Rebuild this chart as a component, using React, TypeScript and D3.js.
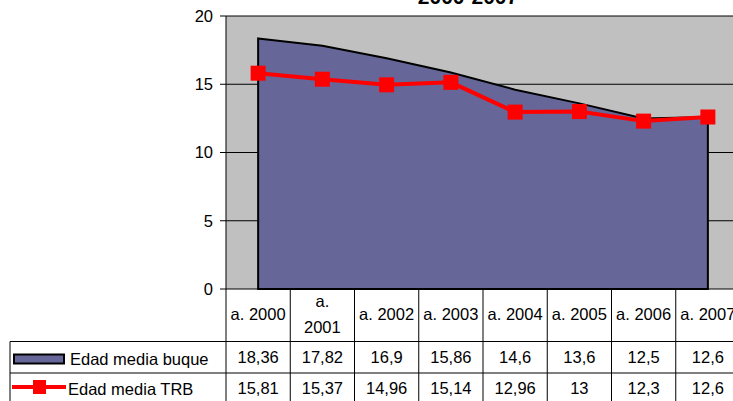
import React, { useEffect, useRef } from 'react';
import * as d3 from 'd3';

// years shown in the data table header (2001 wraps onto two lines in the original)
const categories = ['a. 2000', 'a. 2001', 'a. 2002', 'a. 2003', 'a. 2004', 'a. 2005', 'a. 2006', 'a. 2007'];
const headerLines = [['a. 2000'], ['a.', '2001'], ['a. 2002'], ['a. 2003'], ['a. 2004'], ['a. 2005'], ['a. 2006'], ['a. 2007']];
const edadBuque = [18.36, 17.82, 16.9, 15.86, 14.6, 13.6, 12.5, 12.6];
const edadTRB = [15.81, 15.37, 14.96, 15.14, 12.96, 13, 12.3, 12.6];
const yTicks = [0, 5, 10, 15, 20];
const seriesNames = ['Edad media buque', 'Edad media TRB'];
const title = '2000-2007';

const W = 733;
const H = 401;
const FONT = '"Liberation Sans", Arial, sans-serif';

const App: React.FC = () => {
  const svgRef = useRef<SVGSVGElement>(null);

  useEffect(() => {
    if (!svgRef.current) return;
    const svg = d3.select(svgRef.current);
    svg.selectAll('*').remove();

    const left = 226, right = 740, top = 16, bottom = 289;
    const x = d3.scaleBand<string>().domain(categories).range([left, right]).padding(0);
    const y = d3.scaleLinear().domain([0, 20]).range([bottom, top]);
    const cx = (c: string) => (x(c) as number) + x.bandwidth() / 2;

    // plot background
    svg.append('rect')
      .attr('x', left).attr('y', top)
      .attr('width', right - left).attr('height', bottom - top)
      .attr('fill', '#c0c0c0');

    // gridlines
    svg.append('g')
      .selectAll('line')
      .data(yTicks.filter(t => t > 0))
      .join('line')
      .attr('x1', left).attr('x2', right)
      .attr('y1', d => y(d)).attr('y2', d => y(d))
      .attr('stroke', '#000').attr('stroke-width', 1);

    // area (buque)
    const area = d3.area<number>()
      .x((_, i) => cx(categories[i]))
      .y0(y(0))
      .y1(d => y(d));
    svg.append('path')
      .datum(edadBuque)
      .attr('d', area(edadBuque) + 'Z')
      .attr('fill', '#666699')
      .attr('stroke', '#000')
      .attr('stroke-width', 2)
      .attr('stroke-linejoin', 'miter');

    // y axis
    svg.append('line')
      .attr('x1', left).attr('x2', left).attr('y1', top).attr('y2', bottom)
      .attr('stroke', '#000');
    svg.append('g')
      .selectAll('line')
      .data(yTicks)
      .join('line')
      .attr('x1', left - 6).attr('x2', left)
      .attr('y1', d => y(d)).attr('y2', d => y(d))
      .attr('stroke', '#000');
    svg.append('g')
      .selectAll('text')
      .data(yTicks)
      .join('text')
      .attr('x', left - 13).attr('y', d => y(d))
      .attr('dy', '0.36em')
      .attr('text-anchor', 'end')
      .attr('font-family', FONT).attr('font-size', 16.5)
      .text(d => d);

    // line (TRB)
    const line = d3.line<number>()
      .x((_, i) => cx(categories[i]))
      .y(d => y(d));
    svg.append('path')
      .attr('d', line(edadTRB))
      .attr('fill', 'none')
      .attr('stroke', '#ff0000')
      .attr('stroke-width', 4);
    const ms = 15;
    svg.append('g')
      .selectAll('rect')
      .data(edadTRB)
      .join('rect')
      .attr('x', (_, i) => cx(categories[i]) - ms / 2)
      .attr('y', d => y(d) - ms / 2)
      .attr('width', ms).attr('height', ms)
      .attr('fill', '#ff0000');

    // x axis line
    svg.append('line')
      .attr('x1', left).attr('x2', right).attr('y1', bottom).attr('y2', bottom)
      .attr('stroke', '#000');

    // data table
    const row1 = 341.5, row2 = 373, row3 = 404, tableLeft = 10;
    const grid = svg.append('g').attr('stroke', '#000').attr('stroke-width', 1);
    [row1, row2, row3].forEach(r => {
      grid.append('line').attr('x1', tableLeft).attr('x2', right).attr('y1', r).attr('y2', r);
    });
    grid.append('line').attr('x1', tableLeft).attr('x2', tableLeft).attr('y1', row1).attr('y2', row3);
    grid.selectAll('line.col')
      .data(categories)
      .join('line')
      .attr('class', 'col')
      .attr('x1', d => x(d) as number).attr('x2', d => x(d) as number)
      .attr('y1', bottom).attr('y2', row3);

    const txt = svg.append('g').attr('font-family', FONT).attr('font-size', 16.5).attr('text-anchor', 'middle');
    headerLines.forEach((lines, i) => {
      const c = categories[i];
      if (lines.length === 1) {
        txt.append('text').attr('x', cx(c)).attr('y', 320).text(lines[0]);
      } else {
        txt.append('text').attr('x', cx(c)).attr('y', 307).text(lines[0]);
        txt.append('text').attr('x', cx(c)).attr('y', 333).text(lines[1]);
      }
    });
    const fmt = (v: number) => String(v).replace('.', ',');
    edadBuque.forEach((v, i) => {
      txt.append('text').attr('x', cx(categories[i])).attr('y', 362.5).text(fmt(v));
    });
    edadTRB.forEach((v, i) => {
      txt.append('text').attr('x', cx(categories[i])).attr('y', 393.5).text(fmt(v));
    });

    // legend keys inside table
    svg.append('rect')
      .attr('x', 14).attr('y', 354.5).attr('width', 50).attr('height', 9)
      .attr('fill', '#666699').attr('stroke', '#000').attr('stroke-width', 2);
    svg.append('line')
      .attr('x1', 12).attr('x2', 66).attr('y1', 387).attr('y2', 387)
      .attr('stroke', '#ff0000').attr('stroke-width', 4);
    svg.append('rect')
      .attr('x', 33).attr('y', 380).attr('width', 13).attr('height', 14)
      .attr('fill', '#ff0000');
    const lg = svg.append('g').attr('font-family', FONT).attr('font-size', 16.5);
    lg.append('text').attr('x', 70).attr('y', 364.5).text(seriesNames[0]);
    lg.append('text').attr('x', 68).attr('y', 394.5).text(seriesNames[1]);

    // title (only its lower part is visible)
    svg.append('text')
      .attr('x', 468).attr('y', 4)
      .attr('text-anchor', 'middle')
      .attr('font-family', FONT).attr('font-size', 21).attr('font-weight', 'bold')
      .text(title);
  }, []);

  return (
    <svg
      ref={svgRef}
      width={W}
      height={H}
      style={{ position: 'absolute', left: 0, top: 0, background: '#fff' }}
    />
  );
};

export default App;
